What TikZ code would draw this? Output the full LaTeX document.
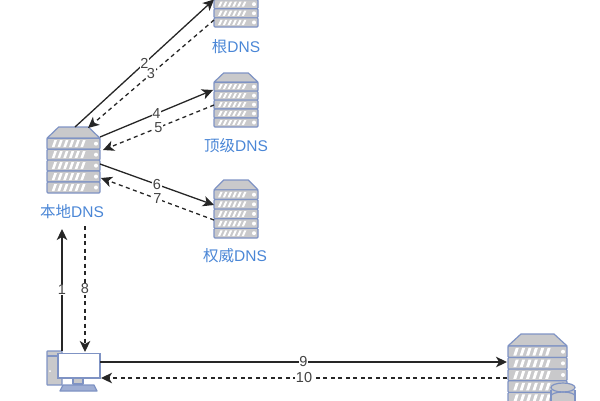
\documentclass[tikz,border=0pt]{standalone}
\usepackage{fontspec}
\setmainfont{Liberation Sans}
\newfontfamily\cjkfont{Noto Sans CJK SC}
\usetikzlibrary{arrows.meta,calc}
\definecolor{rackedge}{HTML}{7F93C4}
\definecolor{rackfill}{HTML}{C9C9CB}
\definecolor{namecolor}{HTML}{4A86D6}
\definecolor{numcolor}{HTML}{444444}
\tikzset{
  part/.style={draw=rackedge,fill=rackfill,line width=1.2pt,line join=round},
  hostname/.style={text=namecolor,font=\fontsize{15.5}{17}\selectfont},
  numlabel/.style={text=numcolor,fill=white,inner sep=0.5pt,font=\fontsize{14.5}{15}\selectfont},
  link/.style={draw=black!85,line width=1.3pt,-{Stealth[length=11pt,width=10.5pt,inset=3pt]}},
  backlink/.style={link,dashed,dash pattern=on 4pt off 3.5pt},
  anchorbox/.style={inner sep=0pt,outer sep=0pt,minimum width=#1}
}
% Rack server icon: node name, left x, top y, width, height
\newcommand{\rackicon}[5]{%
  \pgfmathsetmacro{\roofh}{0.17*#5}
  \pgfmathsetmacro{\rowh}{(#5-\roofh)/5}
  \node[anchorbox=#4pt,minimum height=#5pt] (#1) at ({#2+#4/2},{#3+#5/2}) {};
  \draw[part] (#2,#3+\roofh) -- ({#2+0.22*#4},#3) -- ({#2+0.78*#4},#3) -- (#2+#4,#3+\roofh) -- cycle;
  \foreach \r in {0,...,4}{
    \pgfmathsetmacro{\ry}{#3+\roofh+\r*\rowh}
    \draw[part,rounded corners=1pt] (#2,\ry) rectangle (#2+#4,\ry+\rowh);
    \foreach \s in {0,...,5}{
      \pgfmathsetmacro{\sx}{#2+0.09*#4+\s*0.108*#4}
      \fill[white] (\sx,\ry+\rowh-2) -- (\sx+0.05*#4,\ry+\rowh-2) -- (\sx+0.05*#4+2.5,\ry+2) -- (\sx+2.5,\ry+2) -- cycle;
    }
    \fill[white] (#2+#4-4,\ry+\rowh/2) circle (2);
  }
}
\begin{document}
\begin{tikzpicture}[x=1pt,y=-1pt]
\useasboundingbox (0,0) rectangle (600,400);
\clip (0,0) rectangle (600,400);

% DNS servers
\rackicon{root}{214}{-28}{44}{55}
\rackicon{tld}{214}{73}{44}{54}
\rackicon{auth}{214}{180}{44}{58}
\rackicon{local}{47}{127}{53}{66}
\rackicon{web}{508}{334}{59}{70}

% Database drum on the web server
\draw[part] (551,390) -- (551,410) -- (575,410) -- (575,390);
\draw[part] (563,387.5) ellipse (12 and 4.5);
\draw[draw=rackedge,line width=1.2pt] (551,396) arc[start angle=180,end angle=360,x radius=12,y radius=4];

% Desktop computer
\node[anchorbox=53pt,minimum height=40pt] (pc) at (73.5,371) {};
\draw[part,rounded corners=0.5pt] (47,351) rectangle (62,385);
\draw[draw=rackedge,line width=1.2pt] (47,356) -- (62,356);
\fill[white] (50,371) circle (1);
\draw[part] (73,378) rectangle (83,384);
\draw[draw=rackedge,fill=rackedge!75,line width=1.2pt,line join=round] (63,385) -- (94,385) -- (97,391) -- (60,391) -- cycle;
\draw[draw=rackedge,fill=white,line width=1.4pt] (58,353.5) rectangle (100,378);

% Server captions
\node[hostname] (rootname) at (236,47) {{\cjkfont 根}DNS};
\node[hostname] (tldname) at (236,146) {{\cjkfont 顶级}DNS};
\node[hostname] (localname) at (72,212) {{\cjkfont 本地}DNS};
\node[hostname] (authname) at (235,256) {{\cjkfont 权威}DNS};

% Query and reply connectors
\draw[link] ($(pc.north west)+(15,0)$) -- node[numlabel] {1} ($(local.south west)+(15,36)$);
\draw[link] ($(local.north west)+(28,0)$) -- node[numlabel] {2} ($(root.south west)+(0,-27.5)$);
\draw[backlink] ($(root.south west)+(0,-7)$) -- node[numlabel] {3} ($(local.north west)+(41,1)$);
\draw[link] ($(local.north east)+(0,10)$) -- node[numlabel] {4} ($(tld.north west)+(-1,17)$);
\draw[backlink] ($(tld.north west)+(0,32)$) -- node[numlabel] {5} ($(local.north east)+(3,23)$);
\draw[link] ($(local.north east)+(0,37)$) -- node[numlabel] {6} ($(auth.north west)+(0,25)$);
\draw[backlink] ($(auth.north west)+(0,40)$) -- node[numlabel] {7} ($(local.north east)+(1,51)$);
\draw[backlink] ($(local.south west)+(38,33)$) -- node[numlabel] {8} ($(pc.north west)+(38,1)$);
\draw[link] ($(pc.north east)+(0,11)$) -- node[numlabel] {9} ($(web.north west)+(-1,28)$);
\draw[backlink] ($(web.north west)+(-1,44)$) -- node[numlabel] {10} ($(pc.north east)+(1,27)$);
\end{tikzpicture}
\end{document}
